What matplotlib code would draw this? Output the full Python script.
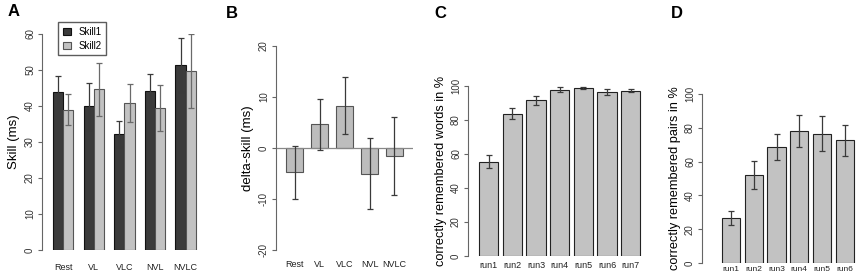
import numpy as np
import matplotlib.pyplot as plt

plt.rcParams['font.family'] = ['Liberation Sans', 'DejaVu Sans']

# Panel A
conds = ["Rest", "VL", "VLC", "NVL", "NVLC"]
skill1 = [43.8, 39.9, 32.2, 44.3, 51.3]
skill1_err = [4.4, 6.6, 3.6, 4.6, 7.5]
skill2 = [39.0, 44.6, 40.8, 39.4, 49.7]
skill2_err = [4.2, 7.4, 5.2, 6.3, 10.3]

# Panel B
delta = [-4.8, 4.7, 8.3, -5.0, -1.6]
delta_err = [5.2, 5.0, 5.6, 6.9, 7.7]

# Panel C
runs_c = ["run1", "run2", "run3", "run4", "run5", "run6", "run7"]
words = [55.5, 83.8, 91.6, 97.8, 98.8, 96.4, 97.3]
words_err = [3.7, 3.3, 2.5, 1.5, 0.6, 1.7, 0.9]

# Panel D
runs_d = ["run1", "run2", "run3", "run4", "run5", "run6"]
pairs = [26.7, 52.1, 68.4, 78.1, 76.4, 72.5]
pairs_err = [4.2, 8.3, 7.7, 9.2, 10.3, 9.2]

W, H = 856, 276
fig = plt.figure(figsize=(W / 100, H / 100), dpi=100)


def make_ax(x0, x1, y_top, y_bot):
    # pixel box -> figure fraction
    return fig.add_axes([x0 / W, 1 - y_bot / H, (x1 - x0) / W, (y_bot - y_top) / H])


def style(ax, lo, hi, step, xpad):
    for s in ["top", "right", "bottom"]:
        ax.spines[s].set_visible(False)
    ax.spines["left"].set_color("#666666")
    ax.spines["left"].set_linewidth(0.8)
    ax.spines["left"].set_bounds(lo, hi)
    ax.set_ylim(lo, hi)
    ticks = np.arange(lo, hi + 0.1, step)
    ax.set_yticks(ticks)
    ax.set_yticklabels([str(int(t)) for t in ticks], rotation=90, va="center",
                       fontsize=7, color="#333333")
    ax.tick_params(axis="y", length=3, width=0.8, color="#666666", pad=2)
    ax.tick_params(axis="x", length=0, labelsize=6.5, pad=xpad, colors="#222222")
    ax.patch.set_alpha(0)


err_kw = dict(ecolor="#3a3a3a", elinewidth=0.9, capsize=2.2, capthick=0.9)

# ---- A ----
axA = make_ax(42, 201, 34, 250)
xa = np.arange(5) * 3
axA.bar(xa + 1.5, skill1, width=1, yerr=skill1_err, color="#3b3b3b",
        edgecolor="#111111", linewidth=0.8, error_kw=err_kw, label="Skill1")
axA.bar(xa + 2.5, skill2, width=1, yerr=skill2_err, color="#c2c2c2",
        edgecolor="#555555", linewidth=0.8,
        error_kw=dict(err_kw, ecolor="#6a6a6a"), label="Skill2")
axA.set_xlim(-0.07, 15.5)
style(axA, 0, 60, 10, 9)
axA.set_xticks(xa + 2)
axA.set_xticklabels(conds)
axA.set_ylabel("Skill (ms)", fontsize=9.5, labelpad=4)
axA.legend(loc="upper left", bbox_to_anchor=(53 / W, 1 - 17 / H),
           bbox_transform=fig.transFigure, fontsize=7, frameon=True,
           fancybox=False, edgecolor="#333333", handlelength=0.8,
           handleheight=0.8, borderpad=0.5, labelspacing=0.4, handletextpad=0.8)

# ---- B ----
axB = make_ax(276, 413, 46, 250)
xb = np.arange(5)
axB.axhline(0, color="#888888", linewidth=0.9)
axB.bar(xb, delta, width=0.68, yerr=delta_err, color="#bdbdbd",
        edgecolor="#555555", linewidth=0.8, error_kw=err_kw)
axB.set_xlim(-0.74, 4.74)
style(axB, -20, 20, 10, 7.5)
axB.set_xticks(xb)
axB.set_xticklabels(conds)
axB.set_ylabel("delta-skill (ms)", fontsize=9.5, labelpad=4)

# ---- C ----
axC = make_ax(468, 645, 86, 256)
xc = np.arange(7)
axC.bar(xc, words, width=0.82, yerr=words_err, color="#c2c2c2",
        edgecolor="#222222", linewidth=0.8, error_kw=err_kw)
axC.set_xlim(-0.87, 6.6)
style(axC, 0, 100, 20, 3.5)
axC.set_xticks(xc)
axC.set_xticklabels(runs_c)
axC.set_ylabel("correctly remembered words in %", fontsize=9.2, labelpad=3)

# ---- D ----
axD = make_ax(702, 856, 94, 263)
xd = np.arange(6)
axD.bar(xd, pairs, width=0.8, yerr=pairs_err, color="#c2c2c2",
        edgecolor="#222222", linewidth=0.8, error_kw=err_kw)
axD.set_xlim(-1.28, 5.5)
style(axD, 0, 100, 20, 2.5)
axD.set_xticks(xd)
axD.set_xticklabels(runs_d, fontsize=6)
axD.set_ylabel("correctly remembered pairs in %", fontsize=9.2, labelpad=3)

# panel letters
for lab, px, py in [("A", 8, 12), ("B", 226, 13), ("C", 434, 13), ("D", 671, 13)]:
    fig.text(px / W, 1 - py / H, lab, fontsize=12, fontweight="bold",
             va="center", ha="left")

fig.savefig("out.png", dpi=100)
